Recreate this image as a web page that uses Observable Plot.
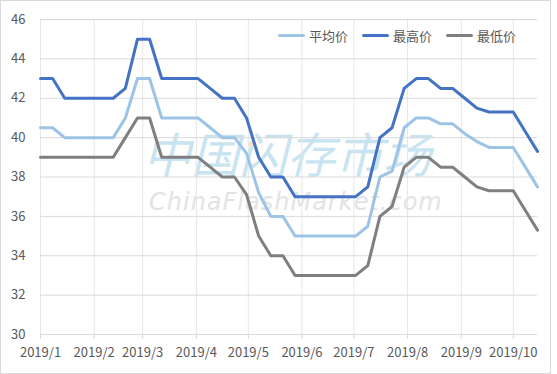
<!DOCTYPE html>
<html>
<head>
<meta charset="utf-8">
<script src="https://cdn.jsdelivr.net/npm/d3@7"></script>
<script src="https://cdn.jsdelivr.net/npm/@observablehq/plot@0.6"></script>
<style>
  body { margin: 0; background: #fff; }
  #wrap { position: relative; width: 557px; height: 374px; font-family: "Noto Sans CJK SC", "Noto Sans", sans-serif; }
  #frame { position: absolute; left: 0; top: 0; width: 551px; height: 374px; box-sizing: border-box; border: 1px solid #d9d9d9; }
  #wm1 { position: absolute; left: 143px; top: 128px; font-size: 48px; line-height: 1; color: #c9e4f1; font-style: italic; white-space: nowrap; letter-spacing: 0px; }
  #wm2 { position: absolute; left: 149px; top: 190px; font-size: 24px; line-height: 1; color: #e3e3e3; font-style: italic; white-space: nowrap; font-family: "DejaVu Sans", sans-serif; letter-spacing: 1px; }
  #wmdot { position: absolute; left: 248px; top: 141px; width: 6px; height: 6px; border-radius: 3px; background: #fbe0c6; }
  #chart { position: absolute; left: 0; top: 0; }
  #legend { position: absolute; left: 278px; top: 26px; display: flex; align-items: center; font-size: 13px; color: #595959; white-space: nowrap; }
  .item { display: flex; align-items: center; margin-right: 14px; }
  .sw { width: 27px; height: 3px; border-radius: 2px; margin-right: 4px; }
</style>
</head>
<body>
<div id="wrap">
  <div id="wm1">中国闪存市场</div>
  <div id="wmdot"></div>
  <div id="wm2">ChinaFlashMarket.com</div>
  <div id="chart"></div>
  <div id="legend"></div>
  <div id="frame"></div>
</div>
<script>
const dates = [
  "2019-01-01","2019-01-08","2019-01-15","2019-01-22","2019-01-29",
  "2019-02-05","2019-02-12","2019-02-19","2019-02-26",
  "2019-03-05","2019-03-12","2019-03-19","2019-03-26",
  "2019-04-02","2019-04-09","2019-04-16","2019-04-23","2019-04-30",
  "2019-05-07","2019-05-14","2019-05-21","2019-05-28",
  "2019-06-04","2019-06-11","2019-06-18","2019-06-25",
  "2019-07-02","2019-07-09","2019-07-16","2019-07-23","2019-07-30",
  "2019-08-06","2019-08-13","2019-08-20","2019-08-27",
  "2019-09-03","2019-09-10","2019-09-17","2019-09-24",
  "2019-10-01","2019-10-08","2019-10-15"
];
const avgPrice = [40.5,40.5,40,40,40,40,40,41,43,43,41,41,41,41,40.5,40,40,39.2,37.2,36,36,35,35,35,35,35,35,35.5,38,38.3,40.5,41,41,40.7,40.7,40.2,39.8,39.5,39.5,39.5,38.5,37.5];
const highPrice = [43,43,42,42,42,42,42,42.5,45,45,43,43,43,43,42.5,42,42,41,39,38,38,37,37,37,37,37,37,37.5,40,40.5,42.5,43,43,42.5,42.5,42,41.5,41.3,41.3,41.3,40.3,39.3];
const lowPrice = [39,39,39,39,39,39,39,40,41,41,39,39,39,39,38.5,38,38,37.1,35,34,34,33,33,33,33,33,33,33.5,36,36.5,38.5,39,39,38.5,38.5,38,37.5,37.3,37.3,37.3,36.3,35.3];
const seriesNames = ["平均价", "最高价", "最低价"];
const seriesColors = ["#9dc3e6", "#4472c4", "#7f7f7f"];
const monthTicks = ["2019-01-01","2019-02-01","2019-03-01","2019-04-01","2019-05-01","2019-06-01","2019-07-01","2019-08-01","2019-09-01","2019-10-01"];
const monthLabels = ["2019/1","2019/2","2019/3","2019/4","2019/5","2019/6","2019/7","2019/8","2019/9","2019/10"];
const yTicks = [30,32,34,36,38,40,42,44,46];

const seriesValues = [avgPrice, highPrice, lowPrice];
const rows = [];
seriesNames.forEach((name, s) => {
  dates.forEach((d, i) => rows.push({series: name, date: new Date(d + "T00:00:00Z"), value: seriesValues[s][i]}));
});
const tickDates = monthTicks.map(d => new Date(d + "T00:00:00Z"));
const labelOf = new Map(tickDates.map((d, i) => [+d, monthLabels[i]]));

const chart = Plot.plot({
  width: 557,
  height: 374,
  marginLeft: 40,
  marginRight: 20,
  marginTop: 19,
  marginBottom: 40,
  style: {background: "transparent", fontFamily: "'Noto Sans CJK SC', 'Noto Sans', sans-serif", fontSize: "13px", color: "#595959"},
  x: {type: "utc", domain: [new Date(dates[0] + "T00:00:00Z"), new Date(dates[dates.length - 1] + "T00:00:00Z")]},
  y: {domain: [30, 46]},
  color: {domain: seriesNames, range: seriesColors},
  marks: [
    Plot.gridX(tickDates, {stroke: "#e6e6e6", strokeOpacity: 1}),
    Plot.gridY(yTicks, {stroke: "#d9d9d9", strokeOpacity: 1}),
    Plot.axisY(yTicks, {tickSize: 0, tickPadding: 15, label: null, fill: "#595959", fontSize: 13}),
    Plot.axisX(tickDates, {tickSize: 5, tickPadding: 8, stroke: "#d9d9d9", label: null, fill: "#595959", fontSize: 13, tickFormat: d => labelOf.get(+d)}),
    Plot.line(rows, {x: "date", y: "value", z: "series", stroke: "series", strokeWidth: 3, strokeLinejoin: "round", strokeLinecap: "round", curve: "linear"})
  ]
});
document.getElementById("chart").appendChild(chart);

const legend = document.getElementById("legend");
seriesNames.forEach((name, i) => {
  const item = document.createElement("div");
  item.className = "item";
  const sw = document.createElement("div");
  sw.className = "sw";
  sw.style.background = seriesColors[i];
  const t = document.createElement("span");
  t.textContent = name;
  item.appendChild(sw);
  item.appendChild(t);
  legend.appendChild(item);
});
</script>
</body>
</html>
